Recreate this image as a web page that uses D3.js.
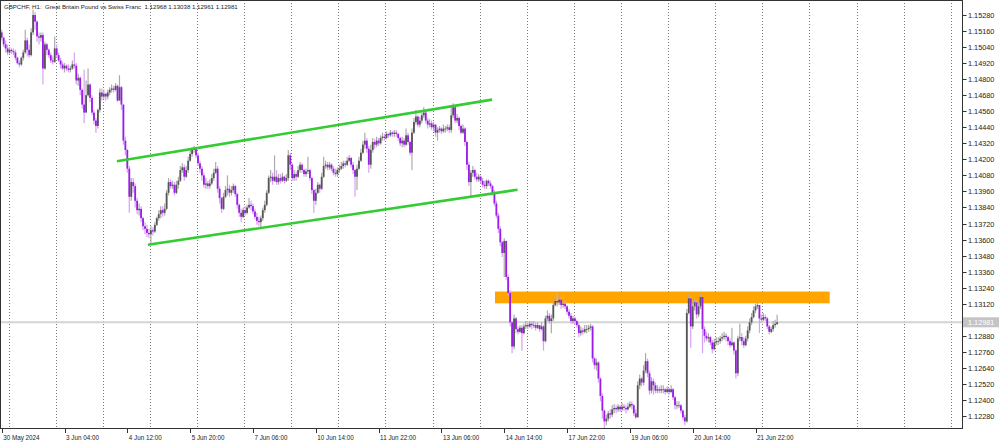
<!DOCTYPE html>
<html><head><meta charset="utf-8">
<script src="https://cdn.jsdelivr.net/npm/d3@7"></script>
<style>body{margin:0;background:#fff}svg{display:block}</style>
</head><body><svg id="c" width="1000" height="444"></svg>
<script>
const chartTitle = "GBPCHF, H1:  Great Britain Pound vs Swiss Franc  1.12968 1.13038 1.12961 1.12981";

const closes = [
1.1511,1.1506,1.1503,1.1500,1.1502,1.1501,1.1500,1.1496,1.1492,1.1491,
1.1496,1.1500,1.1509,1.1502,1.1498,1.1515,1.1528,1.1523,1.1512,1.1511,
1.1513,1.1488,1.1506,1.1502,1.1498,1.1494,1.1493,1.1503,1.1498,1.1494,
1.1491,1.1488,1.1490,1.1488,1.1487,1.1488,1.1491,1.1490,1.1479,1.1481,
1.1472,1.1461,1.1455,1.1468,1.1476,1.1466,1.1455,1.1449,1.1445,1.1457,
1.1470,1.1467,1.1469,1.1467,1.1470,1.1472,1.1473,1.1472,1.1475,1.1464,
1.1474,1.1461,1.1434,1.1427,1.1413,1.1392,1.1403,1.1400,1.1389,1.1382,
1.1383,1.1376,1.1370,1.1368,1.1365,1.1364,1.1367,1.1366,1.1371,1.1376,
1.1379,1.1382,1.1380,1.1383,1.1395,1.1403,1.1400,1.1401,1.1395,1.1401,
1.1404,1.1412,1.1414,1.1407,1.1412,1.1419,1.1424,1.1427,1.1428,1.1423,
1.1417,1.1413,1.1408,1.1401,1.1402,1.1400,1.1402,1.1406,1.1410,1.1413,
1.1398,1.1391,1.1383,1.1392,1.1397,1.1398,1.1395,1.1397,1.1400,1.1394,
1.1386,1.1380,1.1377,1.1382,1.1380,1.1384,1.1386,1.1385,1.1381,1.1377,
1.1374,1.1373,1.1376,1.1382,1.1386,1.1395,1.1406,1.1407,1.1404,1.1407,
1.1403,1.1406,1.1404,1.1407,1.1404,1.1406,1.1423,1.1416,1.1406,1.1409,
1.1407,1.1412,1.1416,1.1412,1.1409,1.1411,1.1412,1.1406,1.1397,1.1389,
1.1395,1.1401,1.1398,1.1407,1.1415,1.1416,1.1414,1.1416,1.1413,1.1410,
1.1409,1.1412,1.1413,1.1415,1.1417,1.1416,1.1419,1.1421,1.1416,1.1412,
1.1407,1.1413,1.1419,1.1425,1.1431,1.1434,1.1428,1.1416,1.1427,1.1433,
1.1431,1.1434,1.1432,1.1436,1.1437,1.1436,1.1439,1.1438,1.1440,1.1439,
1.1440,1.1439,1.1436,1.1432,1.1434,1.1431,1.1438,1.1433,1.1425,1.1440,
1.1448,1.1452,1.1446,1.1449,1.1453,1.1455,1.1449,1.1446,1.1447,1.1444,
1.1446,1.1440,1.1442,1.1443,1.1441,1.1443,1.1443,1.1444,1.1442,1.1453,
1.1459,1.1449,1.1451,1.1445,1.1440,1.1443,1.1433,1.1416,1.1403,1.1410,
1.1412,1.1407,1.1405,1.1407,1.1404,1.1401,1.1400,1.1404,1.1402,1.1400,
1.1395,1.1387,1.1378,1.1368,1.1358,1.1350,1.1359,1.1332,1.1320,1.1298,
1.1280,1.1301,1.1293,1.1291,1.1294,1.1290,1.1295,1.1296,1.1295,1.1297,
1.1296,1.1296,1.1294,1.1296,1.1293,1.1295,1.1284,1.1301,1.1303,1.1299,
1.1301,1.1311,1.1314,1.1313,1.1315,1.1311,1.1312,1.1310,1.1306,1.1303,
1.1299,1.1301,1.1299,1.1296,1.1290,1.1292,1.1291,1.1293,1.1293,1.1294,
1.1295,1.1271,1.1266,1.1268,1.1256,1.1243,1.1232,1.1224,1.1226,1.1230,
1.1229,1.1233,1.1234,1.1233,1.1235,1.1233,1.1235,1.1234,1.1233,1.1235,
1.1237,1.1236,1.1230,1.1227,1.1251,1.1256,1.1253,1.1262,1.1269,1.1260,
1.1247,1.1254,1.1251,1.1247,1.1248,1.1247,1.1248,1.1248,1.1246,1.1248,
1.1246,1.1248,1.1242,1.1236,1.1236,1.1236,1.1232,1.1227,1.1224,1.1305,
1.1316,1.1295,1.1310,1.1313,1.1304,1.1310,1.1317,1.1293,1.1288,1.1286,
1.1287,1.1283,1.1278,1.1283,1.1284,1.1284,1.1286,1.1287,1.1288,1.1287,
1.1284,1.1281,1.1283,1.1277,1.1260,1.1286,1.1287,1.1284,1.1281,1.1286,
1.1292,1.1298,1.1302,1.1307,1.1310,1.1311,1.1301,1.1300,1.1302,1.1301,
1.1295,1.1291,1.1293,1.1296,1.1297,1.12981];

const opens = [
1.1515,
1.1511,1.1506,1.1503,1.1500,1.1502,1.1501,1.1500,1.1496,1.1492,1.1491,
1.1496,1.1500,1.1509,1.1502,1.1498,1.1515,1.1528,1.1523,1.1512,1.1511,
1.1513,1.1488,1.1506,1.1502,1.1498,1.1494,1.1493,1.1503,1.1498,1.1494,
1.1491,1.1488,1.1490,1.1488,1.1487,1.1488,1.1491,1.1490,1.1479,1.1481,
1.1472,1.1461,1.1455,1.1468,1.1476,1.1466,1.1455,1.1449,1.1445,1.1457,
1.1470,1.1467,1.1469,1.1467,1.1470,1.1472,1.1473,1.1472,1.1475,1.1464,
1.1474,1.1461,1.1434,1.1427,1.1413,1.1392,1.1403,1.1400,1.1389,1.1382,
1.1383,1.1376,1.1370,1.1368,1.1365,1.1364,1.1367,1.1366,1.1371,1.1376,
1.1379,1.1382,1.1380,1.1383,1.1395,1.1403,1.1400,1.1401,1.1395,1.1401,
1.1404,1.1412,1.1414,1.1407,1.1412,1.1419,1.1424,1.1427,1.1428,1.1423,
1.1417,1.1413,1.1408,1.1401,1.1402,1.1400,1.1402,1.1406,1.1410,1.1413,
1.1398,1.1391,1.1383,1.1392,1.1397,1.1398,1.1395,1.1397,1.1400,1.1394,
1.1386,1.1380,1.1377,1.1382,1.1380,1.1384,1.1386,1.1385,1.1381,1.1377,
1.1374,1.1373,1.1376,1.1382,1.1386,1.1395,1.1406,1.1407,1.1404,1.1407,
1.1403,1.1406,1.1404,1.1407,1.1404,1.1406,1.1423,1.1416,1.1406,1.1409,
1.1407,1.1412,1.1416,1.1412,1.1409,1.1411,1.1412,1.1406,1.1397,1.1389,
1.1395,1.1401,1.1398,1.1407,1.1415,1.1416,1.1414,1.1416,1.1413,1.1410,
1.1409,1.1412,1.1413,1.1415,1.1417,1.1416,1.1419,1.1421,1.1416,1.1412,
1.1407,1.1413,1.1419,1.1425,1.1431,1.1434,1.1428,1.1416,1.1427,1.1433,
1.1431,1.1434,1.1432,1.1436,1.1437,1.1436,1.1439,1.1438,1.1440,1.1439,
1.1440,1.1439,1.1436,1.1432,1.1434,1.1431,1.1438,1.1433,1.1425,1.1440,
1.1448,1.1452,1.1446,1.1449,1.1453,1.1455,1.1449,1.1446,1.1447,1.1444,
1.1446,1.1440,1.1442,1.1443,1.1441,1.1443,1.1443,1.1444,1.1442,1.1453,
1.1459,1.1449,1.1451,1.1445,1.1440,1.1443,1.1433,1.1416,1.1403,1.1410,
1.1412,1.1407,1.1405,1.1407,1.1404,1.1401,1.1400,1.1404,1.1402,1.1400,
1.1395,1.1387,1.1378,1.1368,1.1358,1.1350,1.1359,1.1332,1.1320,1.1298,
1.1280,1.1301,1.1293,1.1291,1.1294,1.1290,1.1295,1.1296,1.1295,1.1297,
1.1296,1.1296,1.1294,1.1296,1.1293,1.1295,1.1284,1.1301,1.1303,1.1299,
1.1301,1.1311,1.1314,1.1313,1.1315,1.1311,1.1312,1.1310,1.1306,1.1303,
1.1299,1.1301,1.1299,1.1296,1.1290,1.1292,1.1291,1.1293,1.1293,1.1294,
1.1295,1.1271,1.1266,1.1268,1.1256,1.1243,1.1232,1.1224,1.1226,1.1230,
1.1229,1.1233,1.1234,1.1233,1.1235,1.1233,1.1235,1.1234,1.1233,1.1235,
1.1237,1.1236,1.1230,1.1227,1.1251,1.1256,1.1253,1.1262,1.1269,1.1260,
1.1247,1.1254,1.1251,1.1247,1.1248,1.1247,1.1248,1.1248,1.1246,1.1248,
1.1246,1.1248,1.1242,1.1236,1.1236,1.1236,1.1232,1.1227,1.1224,1.1305,
1.1316,1.1295,1.1310,1.1313,1.1304,1.1310,1.1317,1.1293,1.1288,1.1286,
1.1287,1.1283,1.1278,1.1283,1.1284,1.1284,1.1286,1.1287,1.1288,1.1287,
1.1284,1.1281,1.1283,1.1277,1.1260,1.1286,1.1287,1.1284,1.1281,1.1286,
1.1292,1.1298,1.1302,1.1307,1.1310,1.1311,1.1301,1.1300,1.1302,1.1301,
1.1295,1.1291,1.1293,1.1296,
1.12968];

const highs = [
1.1517,1.1512,1.1509,1.1506,1.1504,1.1503,1.1503,1.1502,1.1497,1.1494,
1.1497,1.1502,1.1517,1.1511,1.1506,1.1518,1.1532,1.1530,1.1524,1.1515,
1.1515,1.1515,1.1508,1.1507,1.1503,1.1500,1.1497,1.1512,1.1506,1.1500,
1.1496,1.1493,1.1492,1.1491,1.1491,1.1490,1.1494,1.1500,1.1492,1.1484,
1.1482,1.1473,1.1487,1.1479,1.1488,1.1477,1.1468,1.1457,1.1451,1.1458,
1.1473,1.1473,1.1472,1.1470,1.1472,1.1474,1.1476,1.1475,1.1477,1.1476,
1.1483,1.1475,1.1461,1.1437,1.1428,1.1415,1.1406,1.1406,1.1402,1.1391,
1.1387,1.1385,1.1377,1.1373,1.1371,1.1368,1.1370,1.1369,1.1373,1.1377,
1.1382,1.1385,1.1385,1.1387,1.1397,1.1406,1.1405,1.1404,1.1403,1.1404,
1.1407,1.1415,1.1417,1.1416,1.1415,1.1422,1.1427,1.1429,1.1430,1.1428,
1.1425,1.1419,1.1415,1.1410,1.1406,1.1404,1.1405,1.1409,1.1413,1.1418,
1.1415,1.1400,1.1392,1.1395,1.1400,1.1408,1.1401,1.1400,1.1402,1.1401,
1.1395,1.1387,1.1383,1.1384,1.1385,1.1386,1.1391,1.1389,1.1387,1.1383,
1.1380,1.1377,1.1378,1.1384,1.1389,1.1397,1.1408,1.1412,1.1410,1.1423,
1.1412,1.1409,1.1409,1.1410,1.1408,1.1409,1.1427,1.1425,1.1417,1.1412,
1.1411,1.1415,1.1418,1.1417,1.1413,1.1413,1.1422,1.1413,1.1407,1.1398,
1.1398,1.1403,1.1402,1.1410,1.1422,1.1419,1.1418,1.1418,1.1417,1.1415,
1.1413,1.1414,1.1416,1.1418,1.1419,1.1419,1.1422,1.1423,1.1422,1.1418,
1.1413,1.1416,1.1422,1.1428,1.1434,1.1440,1.1436,1.1430,1.1431,1.1436,
1.1435,1.1437,1.1436,1.1438,1.1440,1.1439,1.1441,1.1440,1.1442,1.1441,
1.1442,1.1442,1.1440,1.1437,1.1437,1.1436,1.1443,1.1440,1.1434,1.1443,
1.1451,1.1457,1.1453,1.1452,1.1455,1.1459,1.1457,1.1451,1.1450,1.1449,
1.1448,1.1446,1.1444,1.1445,1.1444,1.1446,1.1445,1.1446,1.1446,1.1460,
1.1462,1.1460,1.1454,1.1452,1.1446,1.1446,1.1444,1.1434,1.1418,1.1412,
1.1415,1.1413,1.1410,1.1409,1.1408,1.1406,1.1404,1.1405,1.1405,1.1404,
1.1401,1.1397,1.1389,1.1380,1.1370,1.1359,1.1361,1.1359,1.1334,1.1322,
1.1299,1.1304,1.1302,1.1295,1.1296,1.1296,1.1297,1.1299,1.1298,1.1299,
1.1299,1.1299,1.1298,1.1298,1.1296,1.1298,1.1296,1.1303,1.1307,1.1305,
1.1304,1.1314,1.1317,1.1320,1.1320,1.1317,1.1314,1.1314,1.1311,1.1308,
1.1305,1.1303,1.1302,1.1300,1.1298,1.1295,1.1294,1.1296,1.1296,1.1296,
1.1297,1.1296,1.1272,1.1271,1.1269,1.1257,1.1245,1.1233,1.1229,1.1232,
1.1233,1.1236,1.1237,1.1236,1.1237,1.1236,1.1238,1.1237,1.1236,1.1238,
1.1239,1.1239,1.1237,1.1233,1.1254,1.1259,1.1257,1.1266,1.1275,1.1271,
1.1262,1.1257,1.1256,1.1253,1.1251,1.1250,1.1251,1.1251,1.1249,1.1250,
1.1249,1.1251,1.1249,1.1243,1.1239,1.1239,1.1237,1.1233,1.1229,1.1308,
1.1319,1.1317,1.1314,1.1315,1.1314,1.1313,1.1319,1.1317,1.1295,1.1291,
1.1290,1.1288,1.1285,1.1286,1.1287,1.1287,1.1288,1.1290,1.1291,1.1290,
1.1288,1.1286,1.1294,1.1284,1.1278,1.1288,1.1297,1.1290,1.1287,1.1288,
1.1295,1.1301,1.1305,1.1310,1.1312,1.1313,1.1311,1.1304,1.1305,1.1304,
1.1302,1.1296,1.1295,1.1299,1.1300,1.13038];

const lows = [
1.1509,1.1504,1.1500,1.1498,1.1499,1.1499,1.1498,1.1494,1.1491,1.1489,
1.1490,1.1494,1.1499,1.1497,1.1496,1.1497,1.1513,1.1517,1.1508,1.1506,
1.1508,1.1476,1.1487,1.1498,1.1496,1.1492,1.1491,1.1492,1.1496,1.1493,
1.1488,1.1487,1.1485,1.1486,1.1485,1.1485,1.1487,1.1488,1.1476,1.1475,
1.1468,1.1458,1.1447,1.1455,1.1467,1.1463,1.1453,1.1446,1.1440,1.1443,
1.1455,1.1464,1.1465,1.1464,1.1465,1.1468,1.1470,1.1470,1.1471,1.1463,
1.1464,1.1457,1.1431,1.1423,1.1410,1.1380,1.1389,1.1395,1.1384,1.1379,
1.1378,1.1373,1.1367,1.1364,1.1362,1.1361,1.1357,1.1363,1.1365,1.1370,
1.1374,1.1376,1.1377,1.1378,1.1382,1.1393,1.1398,1.1398,1.1393,1.1394,
1.1398,1.1403,1.1410,1.1404,1.1406,1.1410,1.1418,1.1422,1.1425,1.1421,
1.1415,1.1410,1.1404,1.1399,1.1398,1.1398,1.1398,1.1401,1.1404,1.1409,
1.1395,1.1387,1.1380,1.1382,1.1391,1.1393,1.1392,1.1393,1.1395,1.1392,
1.1383,1.1377,1.1373,1.1376,1.1378,1.1379,1.1383,1.1382,1.1379,1.1375,
1.1371,1.1370,1.1369,1.1374,1.1380,1.1385,1.1394,1.1403,1.1401,1.1403,
1.1401,1.1401,1.1402,1.1403,1.1402,1.1403,1.1404,1.1412,1.1404,1.1404,
1.1404,1.1406,1.1410,1.1410,1.1407,1.1407,1.1409,1.1404,1.1394,1.1380,
1.1386,1.1394,1.1395,1.1397,1.1406,1.1413,1.1412,1.1412,1.1411,1.1408,
1.1407,1.1407,1.1410,1.1412,1.1413,1.1414,1.1415,1.1418,1.1414,1.1409,
1.1392,1.1397,1.1412,1.1418,1.1424,1.1428,1.1425,1.1410,1.1413,1.1425,
1.1428,1.1429,1.1430,1.1431,1.1434,1.1434,1.1435,1.1436,1.1437,1.1437,
1.1437,1.1437,1.1434,1.1430,1.1429,1.1429,1.1430,1.1431,1.1423,1.1412,
1.1439,1.1446,1.1444,1.1444,1.1447,1.1451,1.1447,1.1443,1.1444,1.1442,
1.1441,1.1437,1.1434,1.1440,1.1439,1.1440,1.1440,1.1441,1.1440,1.1440,
1.1451,1.1447,1.1447,1.1442,1.1439,1.1439,1.1430,1.1412,1.1400,1.1392,
1.1407,1.1405,1.1403,1.1403,1.1402,1.1399,1.1398,1.1398,1.1400,1.1398,
1.1393,1.1385,1.1376,1.1365,1.1355,1.1347,1.1332,1.1330,1.1318,1.1295,
1.1275,1.1278,1.1290,1.1289,1.1290,1.1277,1.1289,1.1293,1.1293,1.1294,
1.1293,1.1294,1.1292,1.1293,1.1291,1.1292,1.1277,1.1283,1.1299,1.1297,
1.1290,1.1299,1.1310,1.1310,1.1311,1.1308,1.1309,1.1308,1.1304,1.1301,
1.1297,1.1297,1.1296,1.1294,1.1287,1.1288,1.1289,1.1290,1.1290,1.1291,
1.1292,1.1268,1.1263,1.1262,1.1253,1.1239,1.1226,1.1219,1.1221,1.1224,
1.1226,1.1227,1.1230,1.1230,1.1231,1.1231,1.1232,1.1232,1.1230,1.1232,
1.1234,1.1233,1.1228,1.1226,1.1227,1.1248,1.1250,1.1251,1.1260,1.1257,
1.1244,1.1245,1.1244,1.1245,1.1245,1.1245,1.1245,1.1245,1.1244,1.1245,
1.1244,1.1245,1.1240,1.1233,1.1233,1.1234,1.1230,1.1225,1.1221,1.1223,
1.1304,1.1279,1.1293,1.1307,1.1301,1.1302,1.1308,1.1275,1.1283,1.1284,
1.1283,1.1281,1.1275,1.1277,1.1281,1.1281,1.1282,1.1284,1.1285,1.1284,
1.1281,1.1279,1.1280,1.1274,1.1256,1.1258,1.1284,1.1281,1.1279,1.1280,
1.1284,1.1290,1.1296,1.1301,1.1305,1.1308,1.1290,1.1298,1.1299,1.1299,
1.1293,1.1289,1.1290,1.1291,1.1294,1.12961];

// x-axis labels and the bar index where each one sits
const timeLabels = ["30 May 2024","3 Jun 04:00","4 Jun 12:00","5 Jun 20:00","7 Jun 06:00","10 Jun 14:00","11 Jun 22:00","13 Jun 06:00","14 Jun 14:00","17 Jun 22:00","19 Jun 06:00","20 Jun 14:00","21 Jun 22:00"];
const timeLabelIdx = [0,32,64,96,128,160,192,224,256,288,320,352,384];

// price axis labels (1.13000 hidden under the current-price tag)
const priceTicks = [1.15280,1.15160,1.15040,1.14920,1.14800,1.14680,1.14560,1.14440,1.14320,1.14200,1.14080,1.13960,1.13840,1.13720,1.13600,1.13480,1.13360,1.13240,1.13120,1.12880,1.12760,1.12640,1.12520,1.12400,1.12280];
const currentPrice = 1.12981;

// dotted vertical grid, bar index positions
const gridIdx = [3.5,27.5,51.5,75.5,99.5,123.5,147.5,171.5,195.5,219.5,243.5,267.5,291.5,315.5,339.5,363.5,387.5,411.5,435.5,459.5,483.5];

// channel trend lines: [barIndex, price]
const channelUpper = [[58.7,1.14186],[249.8,1.14647]];
const channelLower = [[74.5,1.13561],[262.8,1.13973]];
// resistance zone: bar index range and price range
const zoneIdx = [251.3, 421.8];
const zonePrice = [1.13123, 1.13211];

const svg = d3.select("#c");
const W = 962, H = 428;
const x = d3.scaleLinear().domain([0, 395]).range([1.7, 777.1]);
const y = d3.scaleLinear().domain([1.1228, 1.1528]).range([416, 15]);

svg.append("rect").attr("width",1000).attr("height",444).attr("fill","#fff");

svg.append("defs").append("clipPath").attr("id","plot")
  .append("rect").attr("x",0).attr("y",0).attr("width",W).attr("height",H);

const plot = svg.append("g").attr("clip-path","url(#plot)");

// grid
plot.selectAll("line.grid").data(gridIdx).join("line")
  .attr("class","grid")
  .attr("x1",d=>Math.round(x(d))+0.5).attr("x2",d=>Math.round(x(d))+0.5)
  .attr("y1",0).attr("y2",H)
  .attr("stroke","#7a7a7a").attr("stroke-width",1).attr("stroke-dasharray","1,2");

// current price line
plot.append("line").attr("x1",0).attr("x2",W)
  .attr("y1",y(currentPrice)).attr("y2",y(currentPrice))
  .attr("stroke","#d4d4d4").attr("stroke-width",2);

// resistance zone
plot.append("rect")
  .attr("x",x(zoneIdx[0])).attr("width",x(zoneIdx[1])-x(zoneIdx[0]))
  .attr("y",y(zonePrice[1])).attr("height",y(zonePrice[0])-y(zonePrice[1]))
  .attr("fill","#ffa500");

// candles
const bars = closes.map((c,i)=>({i, o:opens[i], h:highs[i], l:lows[i], c}));
const cg = plot.append("g");
cg.selectAll("line.wick").data(bars).join("line")
  .attr("class","wick")
  .attr("x1",d=>x(d.i)).attr("x2",d=>x(d.i))
  .attr("y1",d=>y(d.h)).attr("y2",d=>y(d.l))
  .attr("stroke",d=>d.c>=d.o?"#ababab":"#d6a2f4").attr("stroke-width",1.2);
cg.selectAll("rect.body").data(bars).join("rect")
  .attr("class","body")
  .attr("x",d=>x(d.i)-0.9).attr("width",1.8)
  .attr("y",d=>y(Math.max(d.o,d.c)))
  .attr("height",d=>Math.max(0.8, Math.abs(y(d.o)-y(d.c))))
  .attr("fill",d=>d.c>=d.o?"#555555":"#9b1be8");

// channel lines
const ln = d3.line().x(d=>x(d[0])).y(d=>y(d[1]));
[channelUpper, channelLower].forEach(seg=>{
  plot.append("path").attr("d",ln(seg)).attr("fill","none")
    .attr("stroke","#33cc33").attr("stroke-width",2.6);
});

// frame
svg.append("rect").attr("x",0.5).attr("y",0.5).attr("width",W).attr("height",H)
  .attr("fill","none").attr("stroke","#333").attr("stroke-width",1);

const font = "Tahoma, 'Liberation Sans', Arial, sans-serif";

// price axis
const pa = svg.append("g");
pa.selectAll("line").data(priceTicks).join("line")
  .attr("x1",W+0.5).attr("x2",W+4.5).attr("y1",d=>Math.round(y(d))+0.5).attr("y2",d=>Math.round(y(d))+0.5)
  .attr("stroke","#333");
pa.selectAll("text").data(priceTicks).join("text")
  .attr("x",W+6).attr("y",d=>y(d)+3)
  .attr("font-family",font).attr("font-size",7.3).attr("fill","#222")
  .text(d=>d.toFixed(5));

// current price tag
svg.append("rect").attr("x",W+1).attr("y",y(currentPrice)-5).attr("width",36).attr("height",10).attr("fill","#c4c4c4");
svg.append("text").attr("x",W+6).attr("y",y(currentPrice)+3)
  .attr("font-family",font).attr("font-size",7.3).attr("fill","#fff").text(currentPrice.toFixed(5));

// time axis
const ta = svg.append("g");
ta.selectAll("line").data(timeLabelIdx).join("line")
  .attr("x1",d=>Math.round(x(d))+0.5).attr("x2",d=>Math.round(x(d))+0.5)
  .attr("y1",H+1).attr("y2",H+5).attr("stroke","#333");
ta.selectAll("text").data(timeLabels).join("text")
  .attr("x",(d,k)=>x(timeLabelIdx[k])+1.5).attr("y",440)
  .attr("font-family",font).attr("font-size",6.3).attr("fill","#222")
  .text(d=>d);

// title
svg.append("text").attr("x",4).attr("y",9)
  .attr("font-family",font).attr("font-size",6.1).attr("fill","#222")
  .attr("xml:space","preserve").style("white-space","pre")
  .text(chartTitle);
</script></body></html>
